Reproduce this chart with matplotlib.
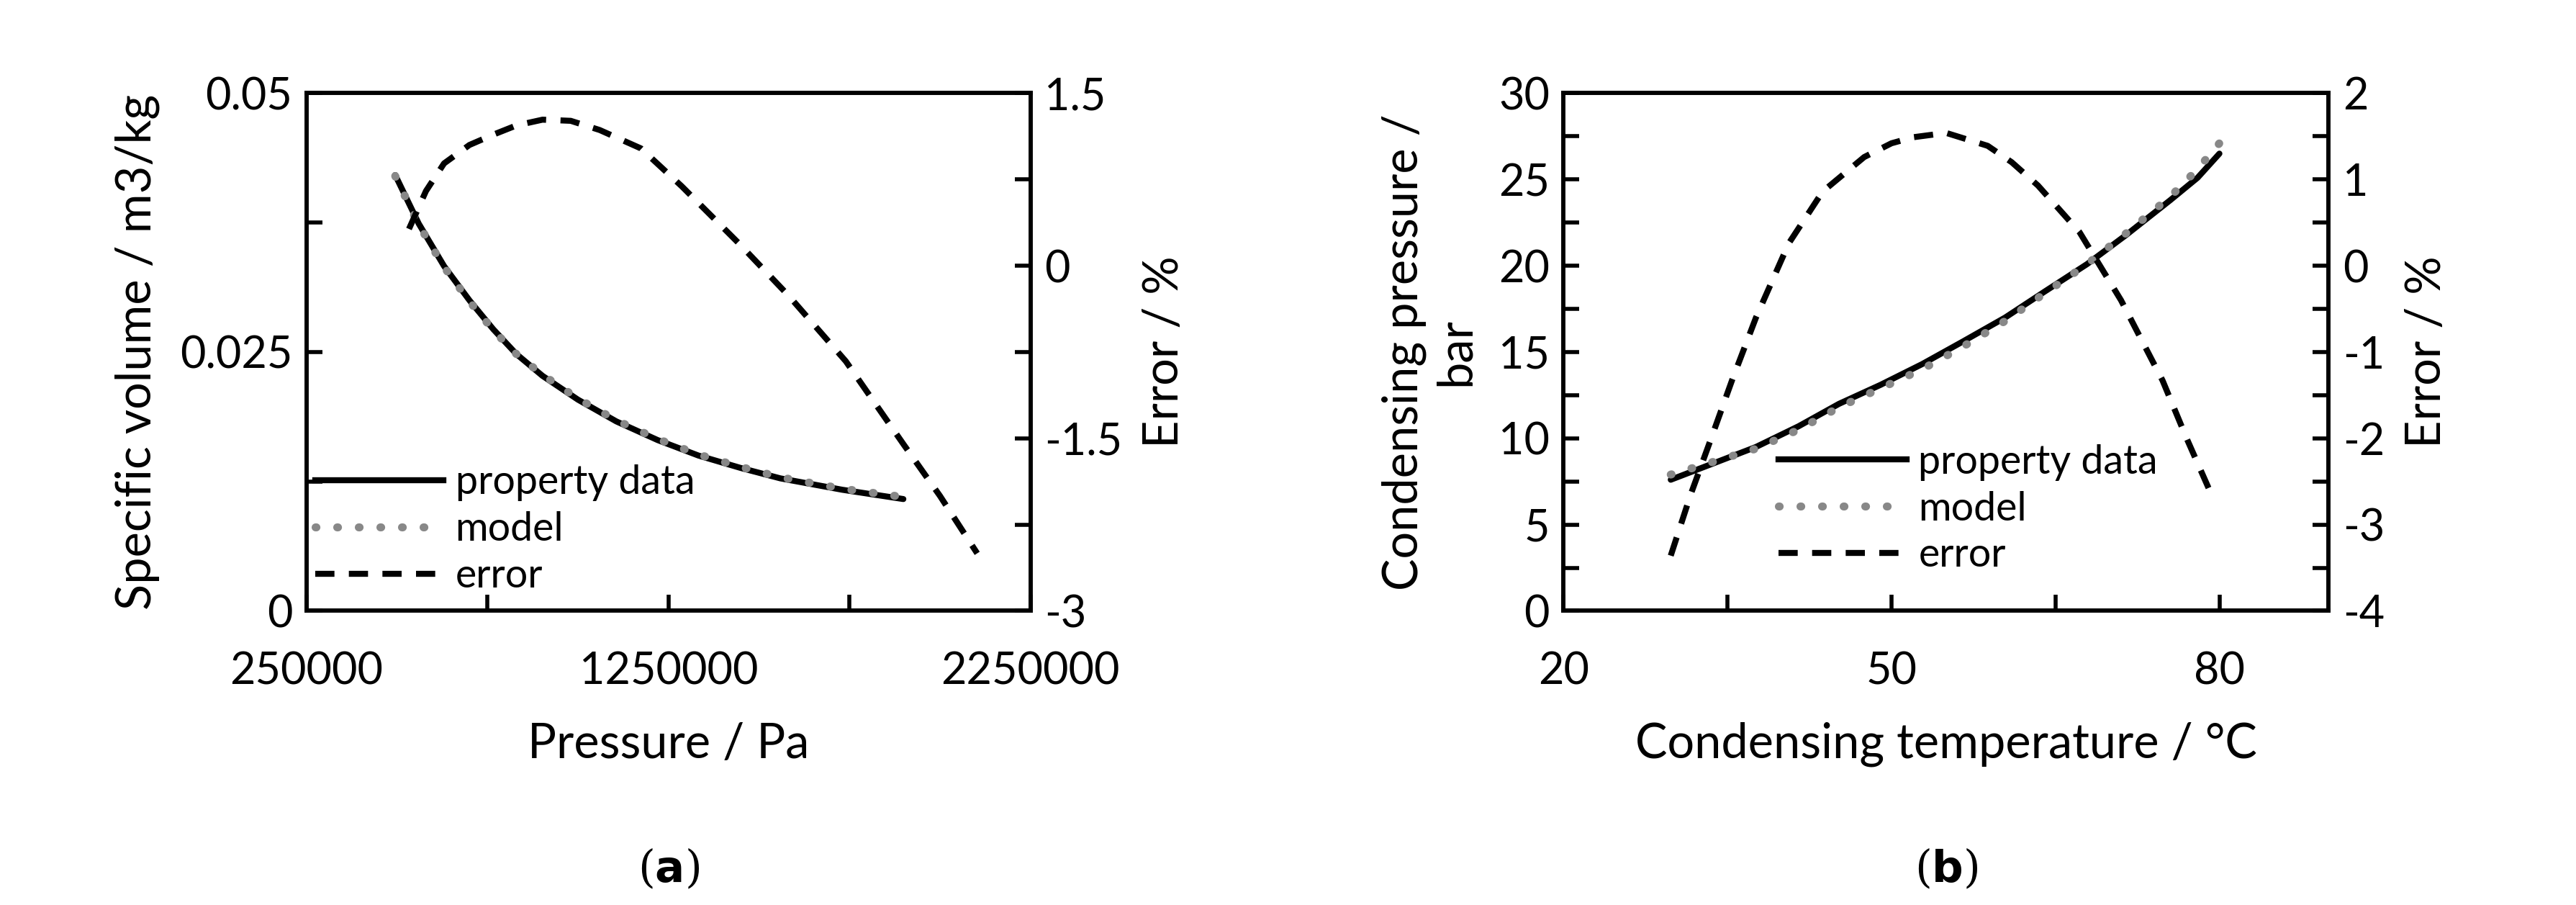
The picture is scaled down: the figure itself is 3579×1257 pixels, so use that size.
import matplotlib.pyplot as plt
import matplotlib.ticker as mt
from matplotlib.lines import Line2D

plt.rcParams['font.family'] = ['Lato', 'DejaVu Sans']

# panel (a): specific volume vs pressure
pa_p = [495000, 560000, 630000, 700000, 766000, 830000, 902000, 1000000, 1106000, 1220000,
        1333000, 1450000, 1559000, 1730000, 1899000]
pa_v = [0.0421, 0.0374, 0.0333, 0.0300, 0.0272, 0.0248, 0.0227, 0.0204, 0.0183, 0.0165,
        0.0150, 0.0138, 0.0128, 0.0117, 0.0108]
pa_model = [0.0420, 0.0373, 0.0332, 0.0299, 0.0271, 0.0248, 0.0228, 0.0205, 0.0184, 0.0166,
            0.0151, 0.0139, 0.0129, 0.0118, 0.0110]
pa_err_p = [533000, 580000, 630000, 700000, 766000, 830000, 902000, 980000, 1060000, 1174000,
            1287000, 1446000, 1582000, 1740000, 1899000, 2000000, 2103000]
pa_err = [0.32, 0.65, 0.89, 1.05, 1.14, 1.22, 1.27, 1.26, 1.18, 1.02,
          0.69, 0.19, -0.26, -0.83, -1.55, -2.0, -2.5]

# panel (b): condensing pressure vs temperature
pb_t = [29.8, 33.5, 37.6, 41.5, 45.2, 49.0, 52.8, 56.5, 60.4, 64.0, 67.9, 71.5, 75.5, 78.0, 80.0]
pb_p = [7.6, 8.5, 9.5, 10.7, 12.0, 13.1, 14.3, 15.6, 17.0, 18.5, 20.1, 21.8, 23.8, 25.1, 26.5]
pb_model = [7.9, 8.6, 9.4, 10.5, 11.8, 12.9, 14.0, 15.3, 16.8, 18.4, 20.1, 21.9, 24.0, 25.6, 27.1]
pb_err_t = [29.8, 31.6, 33.5, 35.4, 37.6, 40.6, 43.7, 47.5, 50.0, 52.0, 55.0, 58.8, 61.0, 63.4,
            67.2, 71.0, 74.8, 77.0, 79.3]
pb_err = [-3.36, -2.66, -2.0, -1.33, -0.6, 0.26, 0.86, 1.26, 1.42, 1.49, 1.54, 1.39, 1.2, 0.93,
          0.39, -0.40, -1.33, -2.0, -2.66]

fs = 44
fig = plt.figure(figsize=(35.79, 12.57), dpi=100)
dash = (0, (3.2, 2.4))
dots = (0, (0.1, 2.6))


def style(ax):
    for s in ax.spines.values():
        s.set_linewidth(4)
    ax.tick_params(direction='in', length=16, width=4, labelsize=fs, pad=14)
    ax.tick_params(which='minor', direction='in', length=16, width=4)


def panel(rect, x, y, ym, ex, ey, xlim, ylim, elim, xmaj, xmin, ymaj, ymin, emaj, emin,
          xlabel, ylabel, legloc, caption):
    ax = fig.add_axes(rect)
    ax.plot(x, y, color='black', lw=6, solid_capstyle='round')
    ax.plot(x, ym, color='#888888', lw=8, linestyle=dots, dash_capstyle='round')
    ax2 = ax.twinx()
    ax2.plot(ex, ey, color='black', lw=6, linestyle=dash)
    ax.set_xlim(*xlim)
    ax.set_ylim(*ylim)
    ax2.set_ylim(*elim)
    ax.xaxis.set_major_locator(mt.FixedLocator(xmaj))
    ax.xaxis.set_minor_locator(mt.FixedLocator(xmin))
    ax.yaxis.set_major_locator(mt.FixedLocator(ymaj))
    ax.yaxis.set_minor_locator(mt.FixedLocator(ymin))
    ax2.yaxis.set_major_locator(mt.FixedLocator(emaj))
    ax2.yaxis.set_minor_locator(mt.FixedLocator(emin))
    f = mt.FuncFormatter(lambda v, p: f'{v:g}' if abs(v) < 1e5 else f'{v:.0f}')
    ax.yaxis.set_major_formatter(f)
    ax.xaxis.set_major_formatter(f)
    ax2.yaxis.set_major_formatter(f)
    style(ax)
    style(ax2)
    ax.xaxis.set_tick_params(pad=40)
    ax.set_xlabel(xlabel, fontsize=fs + 4, labelpad=30)
    ax.set_ylabel(ylabel, fontsize=fs + 4, labelpad=20)
    ax2.set_ylabel('Error / %', fontsize=fs + 4, labelpad=20)
    handles = [Line2D([], [], color='black', lw=6),
               Line2D([], [], color='#888888', lw=8, linestyle=dots, dash_capstyle='round'),
               Line2D([], [], color='black', lw=6, linestyle=dash)]
    ax2.legend(handles, ['property data', 'model', 'error'], loc=legloc, frameon=False,
               fontsize=fs - 4, handlelength=3.2, handletextpad=0.3, labelspacing=0.25)
    fig.text(rect[0] + rect[2] / 2, 0.025, caption, ha='center', fontsize=fs,
             family=['DejaVu Serif'])
    return ax


panel([0.119, 0.325, 0.281, 0.572], pa_p, pa_v, pa_model, pa_err_p, pa_err,
      (250000, 2250000), (0, 0.05), (-3, 1.5),
      [250000, 1250000, 2250000], [750000, 1750000],
      [0, 0.025, 0.05], [0.0125, 0.0375], [-3, -1.5, 0, 1.5], [-2.25, -0.75, 0.75],
      'Pressure / Pa', 'Specific volume / m3/kg', (-0.01, 0.0), r'($\mathbf{a}$)')

panel([0.607, 0.325, 0.297, 0.572], pb_t, pb_p, pb_model, pb_err_t, pb_err,
      (20, 90), (0, 30), (-4, 2),
      [20, 50, 80], [35, 65],
      [0, 5, 10, 15, 20, 25, 30], [2.5, 7.5, 12.5, 17.5, 22.5, 27.5],
      [-4, -3, -2, -1, 0, 1, 2], [-3.5, -2.5, -1.5, -0.5, 0.5, 1.5],
      'Condensing temperature / °C', 'Condensing pressure /\nbar', (0.26, 0.04), r'($\mathbf{b}$)')

fig.savefig('out.png', dpi=100)
